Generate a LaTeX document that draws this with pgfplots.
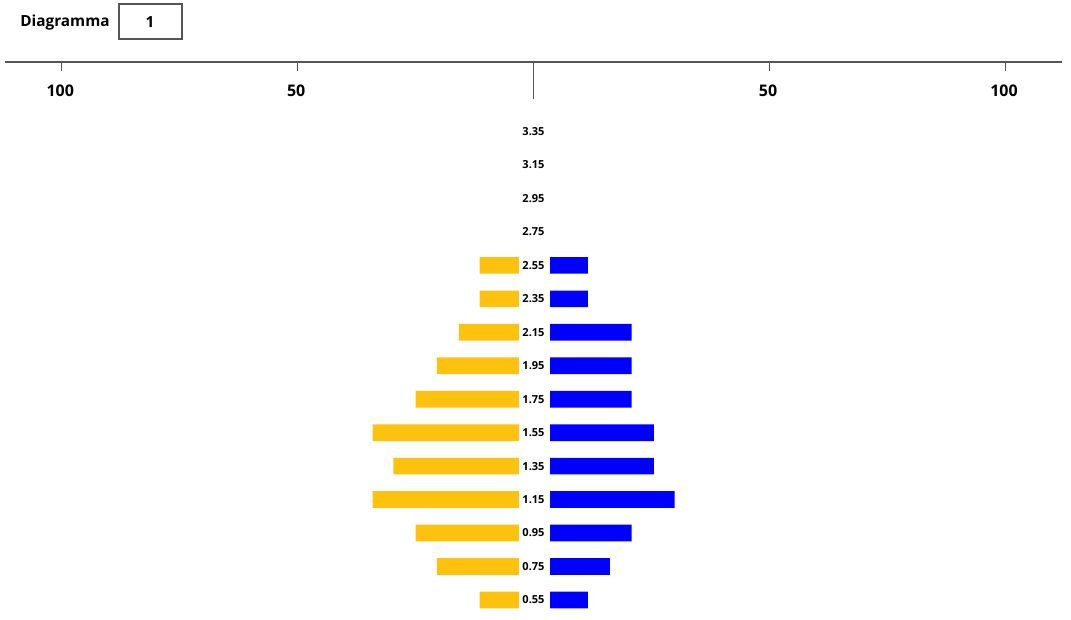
\documentclass[border=0pt]{standalone}
\usepackage{fontspec}
\setmainfont{Open Sans}
\usepackage{pgfplots}
\pgfplotsset{compat=1.18}
\definecolor{barY}{RGB}{253,194,14}
\definecolor{barB}{RGB}{0,0,255}
\definecolor{axgray}{RGB}{85,85,85}
\pgfplotsset{
  base/.style={
    at={(3.75pt,0pt)}, anchor=south west,
    scale only axis, width=792.75pt, height=417.75pt,
    xmin=-112, xmax=112, ymin=0.436, ymax=3.766,
  },
  hidden/.style={base, hide axis, xbar stacked, bar width=12.5pt, clip=false},
}
\begin{document}
\begin{tikzpicture}[x=0.75pt,y=0.75pt]
\useasboundingbox (0,0) rectangle (1071,619);
\begin{axis}[base,
  axis x line*=top, axis y line=none,
  tick align=inside,
  xtick={-100,-50,50,100}, xticklabels={100,50,50,100},
  major tick length=7pt,
  extra x ticks={0}, extra x tick labels={},
  extra x tick style={major tick length=28pt},
  x axis line style={axgray, line width=1pt, -},
  tick style={axgray, line width=0.9pt},
  xticklabel style={anchor=north, yshift=-13.5pt, xshift=-1pt, font=\bfseries\fontsize{12}{14}\selectfont, text=black},
  clip=false,
]
\addplot[only marks, mark=none, nodes near coords, point meta=explicit symbolic,
  every node near coord/.style={anchor=center, font=\bfseries\fontsize{8.3}{10}\selectfont, text=black}]
coordinates {(0,0.55)[0.55] (0,0.75)[0.75] (0,0.95)[0.95] (0,1.15)[1.15] (0,1.35)[1.35]
  (0,1.55)[1.55] (0,1.75)[1.75] (0,1.95)[1.95] (0,2.15)[2.15] (0,2.35)[2.35] (0,2.55)[2.55]
  (0,2.75)[2.75] (0,2.95)[2.95] (0,3.15)[3.15] (0,3.35)[3.35]};
\end{axis}
% left bars
\begin{axis}[hidden]
\addplot[draw=none, fill=none] coordinates {(-3.1,0.55) (-3.1,0.75) (-3.1,0.95) (-3.1,1.15) (-3.1,1.35)
  (-3.1,1.55) (-3.1,1.75) (-3.1,1.95) (-3.1,2.15) (-3.1,2.35) (-3.1,2.55) (-3.1,2.75) (-3.1,2.95) (-3.1,3.15) (-3.1,3.35)};
\addplot[draw=none, fill=barY] coordinates {(-8.3,0.55) (-17.4,0.75) (-21.9,0.95) (-31,1.15) (-26.6,1.35)
  (-31,1.55) (-21.9,1.75) (-17.4,1.95) (-12.7,2.15) (-8.3,2.35) (-8.3,2.55) (0,2.75) (0,2.95) (0,3.15) (0,3.35)};
\end{axis}
% right bars
\begin{axis}[hidden]
\addplot[draw=none, fill=none] coordinates {(3.5,0.55) (3.5,0.75) (3.5,0.95) (3.5,1.15) (3.5,1.35)
  (3.5,1.55) (3.5,1.75) (3.5,1.95) (3.5,2.15) (3.5,2.35) (3.5,2.55) (3.5,2.75) (3.5,2.95) (3.5,3.15) (3.5,3.35)};
\addplot[draw=none, fill=barB] coordinates {(8,0.55) (12.7,0.75) (17.3,0.95) (26.4,1.15) (22,1.35)
  (22,1.55) (17.3,1.75) (17.3,1.95) (17.3,2.15) (8,2.35) (8,2.55) (0,2.75) (0,2.95) (0,3.15) (0,3.35)};
\end{axis}
\node[font=\bfseries\fontsize{11.5}{13}\selectfont, anchor=center] at (65,596) {Diagramma};
\draw[axgray, line width=0.9pt] (119,580) rectangle (182,615);
\node[font=\bfseries\fontsize{11.5}{13}\selectfont, anchor=center] at (150,597) {1};
\end{tikzpicture}
\end{document}
